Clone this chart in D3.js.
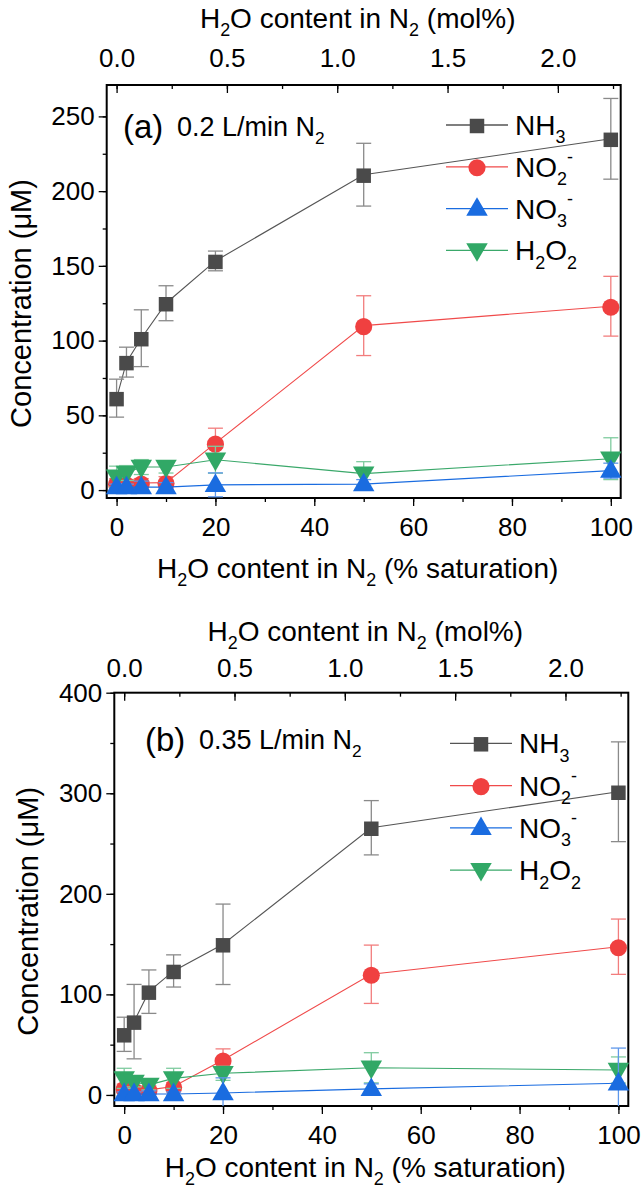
<!DOCTYPE html>
<html>
<head>
<meta charset="utf-8">
<script src="https://cdn.jsdelivr.net/npm/d3@7"></script>
<style>
  body { margin: 0; background: #fff; }
  text { font-family: "Liberation Sans", Arial, sans-serif; fill: #000; }
</style>
</head>
<body>
<div id="chart"></div>
<script>
// x positions (% saturation), shared by both panels
const satPct = [0, 2, 5, 10, 20, 50, 100];

// panel (a) 0.2 L/min N2
const nh3A = [61.5, 85.6, 101.6, 125, 153.3, 211, 235];
const nh3AErr = [12.7, 10, 19, 11.7, 6.6, 21, 27];
const no2A = [4.5, 4, 4.7, 5, 31.4, 110, 123];
const no2AErr = [3, 3, 3, 4, 10, 20, 20];
const no3A = [2, 2, 2, 2, 3.5, 4, 13];
const no3AErr = [2, 2, 4, 3, 8, 3, 5];
const h2o2A = [9, 11.4, 15.4, 15.4, 20.3, 11, 21];
const h2o2AErr = [7, 5, 5, 4, 9, 8, 14];

// panel (b) 0.35 L/min N2
const nh3B = [60.3, 72.9, 102.7, 123.3, 149.8, 265.7, 301.5];
const nh3BErr = [17, 37, 21.6, 16, 40, 27, 49.6];
const no2B = [6.6, 5, 5, 8.3, 34.8, 120, 147.4];
const no2BErr = [4, 4, 4, 4, 11, 29, 27.5];
const no3B = [1, 1, 1, 1, 2, 6, 11.6];
const no3BErr = [2, 2, 3, 2, 15, 5, 35];
const h2o2B = [16.5, 13, 10, 16.5, 21.5, 27, 24.8];
const h2o2BErr = [10, 5, 5, 10, 7, 15, 13];

const bottomTicks = [0, 20, 40, 60, 80, 100];
const topTicks = [0.0, 0.5, 1.0, 1.5, 2.0];
const molPerSat = 0.0224; // mol% of H2O at 1 % saturation

const species = [
  { key: 'nh3', label: ['NH', '3', ''], shape: d3.symbolSquare, size: 210, fill: '#4a4a4a', line: '#555555', err: '#8a8a8a' },
  { key: 'no2', label: ['NO', '2', '-'], shape: d3.symbolCircle, size: 230, fill: '#f04040', line: '#f04a4a', err: '#f27d7d' },
  { key: 'h2o2', label: ['H', '2', 'O', '2'], shape: 'down', size: 200, fill: '#31a866', line: '#3aa86a', err: '#7fcb9f' },
  { key: 'no3', label: ['NO', '3', '-'], shape: d3.symbolTriangle, size: 200, fill: '#1a6ce0', line: '#1a6ce0', err: '#5e97ea' }
];
const legendOrder = ['nh3', 'no2', 'no3', 'h2o2'];

const svg = d3.select('#chart').append('svg')
  .attr('width', 642)
  .attr('height', 1188);

function addSubText(sel, parts, fs) {
  // parts: normal, sub, (sup) or normal, sub, normal, sub
  sel.append('tspan').text(parts[0]);
  if (parts.length === 3) {
    sel.append('tspan').attr('font-size', fs * 0.64).attr('dy', fs * 0.3).text(parts[1]);
    if (parts[2]) sel.append('tspan').attr('font-size', fs * 0.64).attr('dy', -fs * 0.8).text(parts[2]);
  } else {
    sel.append('tspan').attr('font-size', fs * 0.64).attr('dy', fs * 0.3).text(parts[1]);
    sel.append('tspan').attr('dy', -fs * 0.3).text(parts[2]);
    sel.append('tspan').attr('font-size', fs * 0.64).attr('dy', fs * 0.3).text(parts[3]);
  }
}

function symbolPath(s) {
  if (s.shape === 'down') {
    return { d: d3.symbol().type(d3.symbolTriangle).size(s.size)(), rot: 180 };
  }
  return { d: d3.symbol().type(s.shape).size(s.size)(), rot: 0 };
}

function drawPanel(cfg) {
  const g = svg.append('g');
  const x = d3.scaleLinear().domain([-2, 102]).range([cfg.left, cfg.right]);
  const xTop = d3.scaleLinear().domain([-2 * molPerSat, 102 * molPerSat]).range([cfg.left, cfg.right]);
  const y = d3.scaleLinear().domain(cfg.yDomain).range([cfg.bottom, cfg.top]);

  // bottom axis
  g.append('g').attr('transform', `translate(0,${cfg.bottom})`)
    .call(d3.axisBottom(x).tickValues(d3.range(0, 101, 10)).tickSize(4).tickFormat(''))
    .call(a => a.select('.domain').remove());
  const bAx = g.append('g').attr('transform', `translate(0,${cfg.bottom})`)
    .call(d3.axisBottom(x).tickValues(bottomTicks).tickSize(8).tickPadding(12));
  bAx.select('.domain').remove();
  bAx.selectAll('text').attr('font-size', 26).attr('font-family', null);

  // top axis (mol%), ticks inward
  g.append('g').attr('transform', `translate(0,${cfg.top})`)
    .call(d3.axisTop(xTop).tickValues(d3.range(0, 2.3, 0.25)).tickSize(-4).tickFormat(''))
    .call(a => a.select('.domain').remove());
  const tAx = g.append('g').attr('transform', `translate(0,${cfg.top})`)
    .call(d3.axisTop(xTop).tickValues(topTicks).tickSize(-8).tickPadding(cfg.topPad).tickFormat(d3.format('.1f')));
  tAx.select('.domain').remove();
  tAx.selectAll('text').attr('font-size', 26).attr('font-family', null);

  // left axis
  g.append('g').attr('transform', `translate(${cfg.left},0)`)
    .call(d3.axisLeft(y).tickValues(cfg.yMinor).tickSize(4).tickFormat(''))
    .call(a => a.select('.domain').remove());
  const lAx = g.append('g').attr('transform', `translate(${cfg.left},0)`)
    .call(d3.axisLeft(y).tickValues(cfg.yTicks).tickSize(8).tickPadding(4));
  lAx.select('.domain').remove();
  lAx.selectAll('text').attr('font-size', 26).attr('font-family', null);
  g.selectAll('.tick line').attr('stroke', '#000').attr('stroke-width', 1.3);

  // frame
  g.append('rect')
    .attr('x', cfg.left).attr('y', cfg.top)
    .attr('width', cfg.right - cfg.left).attr('height', cfg.bottom - cfg.top)
    .attr('fill', 'none').attr('stroke', '#000').attr('stroke-width', 2);

  // series
  species.forEach(s => {
    const vals = cfg.data[s.key], errs = cfg.data[s.key + 'Err'];
    const pts = satPct.map((xv, i) => ({ x: xv, y: vals[i], e: errs[i] }));
    const sg = g.append('g');
    sg.append('path').datum(pts)
      .attr('fill', 'none').attr('stroke', s.line).attr('stroke-width', 1.1)
      .attr('d', d3.line().x(d => x(d.x)).y(d => y(d.y)));
    const eb = sg.selectAll('.eb').data(pts).enter().append('g').attr('class', 'eb')
      .attr('stroke', s.err).attr('stroke-width', 1.3);
    eb.append('line').attr('x1', d => x(d.x)).attr('x2', d => x(d.x))
      .attr('y1', d => Math.min(y(d.y - d.e), cfg.bottom)).attr('y2', d => y(d.y + d.e));
    eb.append('line').attr('x1', d => x(d.x) - 7.5).attr('x2', d => x(d.x) + 7.5)
      .attr('y1', d => y(d.y + d.e)).attr('y2', d => y(d.y + d.e));
    eb.filter(d => y(d.y - d.e) < cfg.bottom).append('line')
      .attr('x1', d => x(d.x) - 7.5).attr('x2', d => x(d.x) + 7.5)
      .attr('y1', d => y(d.y - d.e)).attr('y2', d => y(d.y - d.e));
    const sp = symbolPath(s);
    sg.selectAll('.mk').data(pts).enter().append('path').attr('class', 'mk')
      .attr('d', sp.d)
      .attr('transform', d => `translate(${x(d.x)},${y(d.y) + (sp.rot ? -1 : 1)}) rotate(${sp.rot})`)
      .attr('fill', s.fill);
  });

  // legend
  legendOrder.forEach((k, i) => {
    const s = species.find(d => d.key === k);
    const ly = cfg.legY + i * cfg.legStep;
    g.append('line').attr('x1', cfg.legX).attr('x2', cfg.legX + 62)
      .attr('y1', ly).attr('y2', ly).attr('stroke', s.line).attr('stroke-width', 1.3);
    const sp = symbolPath(s);
    g.append('path').attr('d', sp.d)
      .attr('transform', `translate(${cfg.legX + 31},${ly + (sp.rot ? -1 : 1)}) rotate(${sp.rot})`)
      .attr('fill', s.fill);
    const t = g.append('text').attr('x', cfg.legX + 69).attr('y', ly + 10).attr('font-size', 28);
    addSubText(t, s.label, 28);
  });

  // panel label
  g.append('text').attr('x', cfg.labX).attr('y', cfg.labY).attr('font-size', 33).text(cfg.tag);
  const lt = g.append('text').attr('x', cfg.labX + 54).attr('y', cfg.labY - 2).attr('font-size', 27);
  addSubText(lt, [cfg.flow + ' L/min N', '2', ''], 27);

  // axis titles
  const bt = g.append('text').attr('x', (cfg.left + cfg.right) / 2 - 6).attr('y', cfg.bottom + cfg.botTitle)
    .attr('text-anchor', 'middle').attr('font-size', 28);
  addSubText(bt, ['H', '2', 'O content in N', '2'], 28);
  bt.append('tspan').attr('dy', -28 * 0.3).text(' (% saturation)');

  const tt = g.append('text').attr('x', (cfg.left + cfg.right) / 2 - 6).attr('y', cfg.top - cfg.topTitle)
    .attr('text-anchor', 'middle').attr('font-size', 28);
  addSubText(tt, ['H', '2', 'O content in N', '2'], 28);
  tt.append('tspan').attr('dy', -28 * 0.3).text(' (mol%)');

  g.append('text')
    .attr('transform', `translate(${cfg.left - 76},${(cfg.top + cfg.bottom) / 2 + 12}) rotate(-90)`)
    .attr('text-anchor', 'middle').attr('font-size', 29)
    .text('Concentration (\u03bcM)');
}

drawPanel({
  left: 106.7, right: 620.7, top: 85, bottom: 498,
  yDomain: [-5.3, 271], yTicks: [0, 50, 100, 150, 200, 250], yMinor: d3.range(0, 271, 25),
  data: { nh3: nh3A, nh3Err: nh3AErr, no2: no2A, no2Err: no2AErr, no3: no3A, no3Err: no3AErr, h2o2: h2o2A, h2o2Err: h2o2AErr },
  legX: 446, legY: 125, legStep: 41.8,
  labX: 123, labY: 138, tag: '(a)', flow: '0.2',
  topPad: 18, topTitle: 57, botTitle: 80
});

drawPanel({
  left: 114.3, right: 628.3, top: 692.7, bottom: 1106,
  yDomain: [-11, 400], yTicks: [0, 100, 200, 300, 400], yMinor: d3.range(0, 401, 50),
  data: { nh3: nh3B, nh3Err: nh3BErr, no2: no2B, no2Err: no2BErr, no3: no3B, no3Err: no3BErr, h2o2: h2o2B, h2o2Err: h2o2BErr },
  legX: 450, legY: 743.3, legStep: 42.3,
  labX: 145, labY: 751, tag: '(b)', flow: '0.35',
  topPad: 16, topTitle: 52, botTitle: 71
});
</script>
</body>
</html>
